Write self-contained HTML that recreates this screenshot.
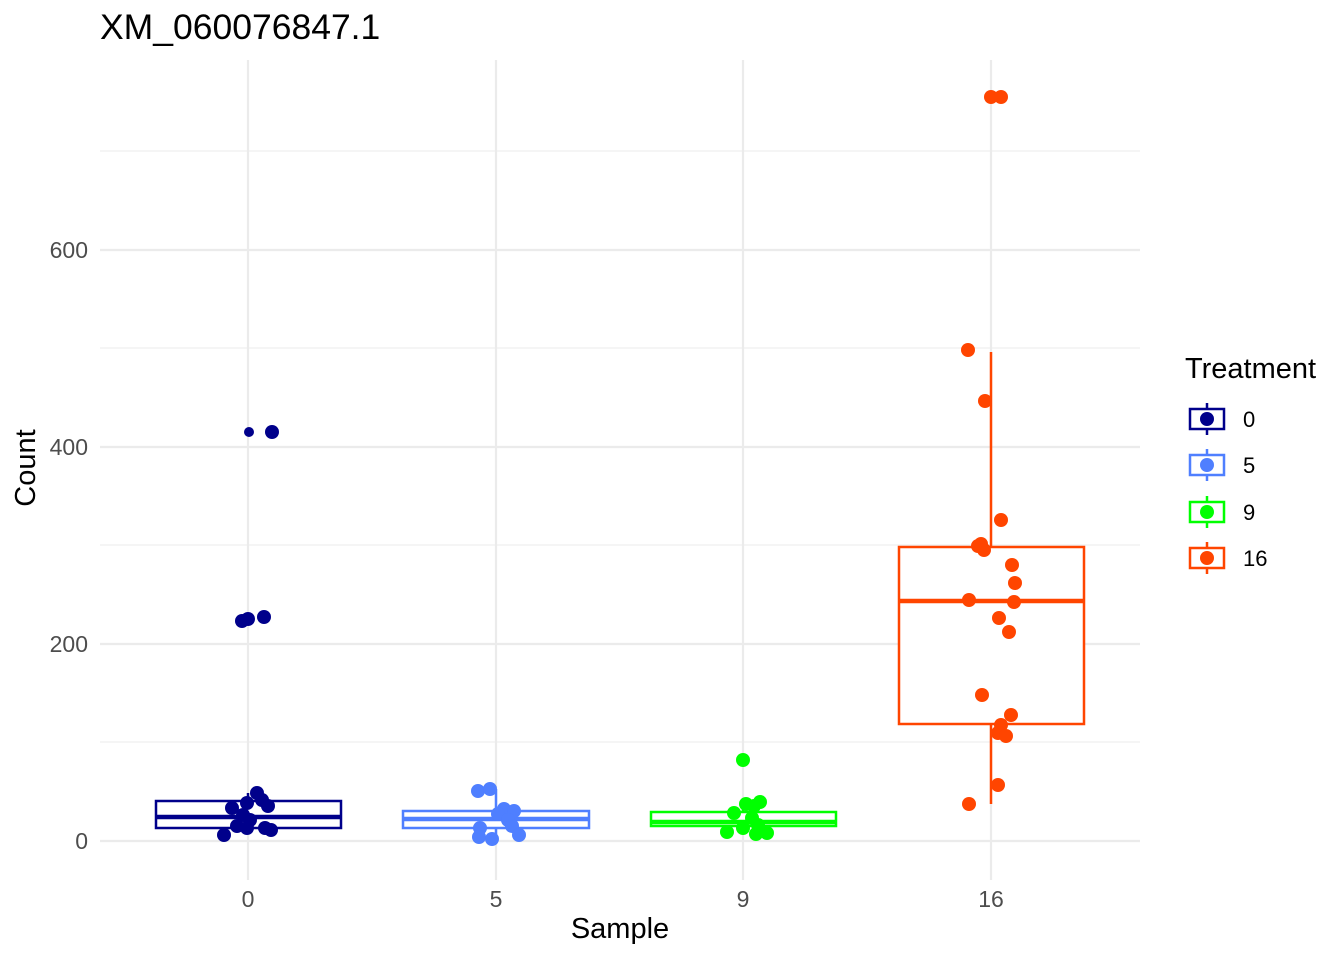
<!DOCTYPE html><html><head><meta charset="utf-8"><style>body{margin:0;background:#fff}svg{display:block;font-family:"Liberation Sans",sans-serif}</style></head><body>
<svg width="1344" height="960" xmlns="http://www.w3.org/2000/svg">
<g stroke="#ebebeb" stroke-width="1.1">
<line x1="100" x2="1140" y1="151" y2="151"/><line x1="100" x2="1140" y1="348" y2="348"/><line x1="100" x2="1140" y1="545" y2="545"/><line x1="100" x2="1140" y1="742" y2="742"/>
</g>
<g stroke="#ebebeb" stroke-width="2.2">
<line x1="100" x2="1140" y1="250" y2="250"/><line x1="100" x2="1140" y1="447" y2="447"/><line x1="100" x2="1140" y1="644" y2="644"/><line x1="100" x2="1140" y1="841" y2="841"/>
<line x1="248" x2="248" y1="60" y2="880"/><line x1="496" x2="496" y1="60" y2="880"/><line x1="743" x2="743" y1="60" y2="880"/><line x1="991" x2="991" y1="60" y2="880"/>
</g>
<g fill="none" stroke-width="2.5">
<g stroke="#00008b"><line x1="248" x2="248" y1="793" y2="834"/><rect x="156" y="801" width="185" height="27" fill="#fff"/><line x1="156" x2="341" y1="817" y2="817" stroke-width="4.5"/></g>
<g stroke="#4f7fff"><line x1="496" x2="496" y1="789" y2="838"/><rect x="403" y="811" width="186" height="17" fill="#fff"/><line x1="403" x2="589" y1="819" y2="819" stroke-width="4.5"/></g>
<g stroke="#00ff00"><line x1="743" x2="743" y1="800" y2="834"/><rect x="651" y="812" width="185" height="14" fill="#fff"/><line x1="651" x2="836" y1="822" y2="822" stroke-width="4.5"/></g>
<g stroke="#ff4500"><line x1="991" x2="991" y1="352" y2="804"/><rect x="899" y="547" width="185" height="177" fill="#fff"/><line x1="899" x2="1084" y1="601" y2="601" stroke-width="4.5"/></g>
</g>
<g fill="#00008b">
<circle cx="249" cy="432" r="5"/><circle cx="272" cy="432" r="7"/><circle cx="242" cy="621" r="7"/><circle cx="248" cy="619" r="7"/><circle cx="264" cy="617" r="7"/>
<circle cx="257" cy="793" r="7"/><circle cx="262" cy="800" r="7"/><circle cx="247" cy="803" r="7"/><circle cx="268" cy="806" r="7"/><circle cx="232" cy="808" r="7"/><circle cx="243" cy="815" r="7"/><circle cx="250" cy="820" r="7"/><circle cx="237" cy="826" r="7"/><circle cx="247" cy="828" r="7"/><circle cx="265" cy="828" r="7"/><circle cx="271" cy="830" r="7"/><circle cx="224" cy="835" r="7"/>
</g>
<g fill="#4f7fff">
<circle cx="478" cy="791" r="7"/><circle cx="490" cy="789" r="7"/><circle cx="504" cy="809" r="7"/><circle cx="514" cy="811" r="7"/><circle cx="498" cy="814" r="7"/><circle cx="508" cy="820" r="7"/><circle cx="512" cy="826" r="7"/><circle cx="480" cy="828" r="7"/><circle cx="479" cy="837" r="7"/><circle cx="492" cy="839" r="7"/><circle cx="519" cy="835" r="7"/>
</g>
<g fill="#00ff00">
<circle cx="743" cy="760" r="7"/><circle cx="760" cy="802" r="7"/><circle cx="746" cy="804" r="7"/><circle cx="754" cy="806" r="7"/><circle cx="734" cy="813" r="7"/><circle cx="752" cy="818" r="7"/><circle cx="758" cy="825" r="7"/><circle cx="727" cy="832" r="7"/><circle cx="756" cy="834" r="7"/><circle cx="767" cy="833" r="7"/><circle cx="743" cy="828" r="7"/>
</g>
<g fill="#ff4500">
<circle cx="991" cy="97" r="7"/><circle cx="1001" cy="97" r="7"/><circle cx="968" cy="350" r="7"/><circle cx="985" cy="401" r="7"/><circle cx="1001" cy="520" r="7"/><circle cx="978" cy="546" r="7"/><circle cx="981" cy="544" r="7"/><circle cx="984" cy="550" r="7"/><circle cx="1012" cy="565" r="7"/><circle cx="1015" cy="583" r="7"/><circle cx="969" cy="600" r="7"/><circle cx="1014" cy="602" r="7"/><circle cx="999" cy="618" r="7"/><circle cx="1009" cy="632" r="7"/><circle cx="982" cy="695" r="7"/><circle cx="1011" cy="715" r="7"/><circle cx="1001" cy="725" r="7"/><circle cx="998" cy="733" r="7"/><circle cx="1006" cy="736" r="7"/><circle cx="998" cy="785" r="7"/><circle cx="969" cy="804" r="7"/>
</g>
<g font-size="23" fill="#4d4d4d" text-anchor="end">
<text x="88" y="258">600</text><text x="88" y="455">400</text><text x="88" y="652">200</text><text x="88" y="849">0</text>
</g>
<g font-size="23" fill="#4d4d4d" text-anchor="middle">
<text x="248" y="907">0</text><text x="496" y="907">5</text><text x="743" y="907">9</text><text x="991" y="907">16</text>
</g>
<text x="620" y="938" font-size="29" text-anchor="middle">Sample</text>
<text transform="translate(35,468) rotate(-90)" font-size="29" text-anchor="middle">Count</text>
<text x="100" y="39" font-size="35.5">XM_060076847.1</text>
<text x="1185" y="378" font-size="29">Treatment</text>
<g stroke-width="2.5" fill="#fff">
<g stroke="#00008b"><line x1="1207" x2="1207" y1="403" y2="435"/><rect x="1190" y="409" width="34" height="20"/><circle cx="1207" cy="419" r="7" fill="#00008b" stroke="none"/></g>
<g stroke="#4f7fff"><line x1="1207" x2="1207" y1="449" y2="481"/><rect x="1190" y="455" width="34" height="20"/><circle cx="1207" cy="465" r="7" fill="#4f7fff" stroke="none"/></g>
<g stroke="#00ff00"><line x1="1207" x2="1207" y1="496" y2="528"/><rect x="1190" y="502" width="34" height="20"/><circle cx="1207" cy="512" r="7" fill="#00ff00" stroke="none"/></g>
<g stroke="#ff4500"><line x1="1207" x2="1207" y1="542" y2="574"/><rect x="1190" y="548" width="34" height="20"/><circle cx="1207" cy="558" r="7" fill="#ff4500" stroke="none"/></g>
</g>
<g font-size="22"><text x="1243" y="427">0</text><text x="1243" y="473">5</text><text x="1243" y="520">9</text><text x="1243" y="566">16</text></g>
</svg>
</body></html>
